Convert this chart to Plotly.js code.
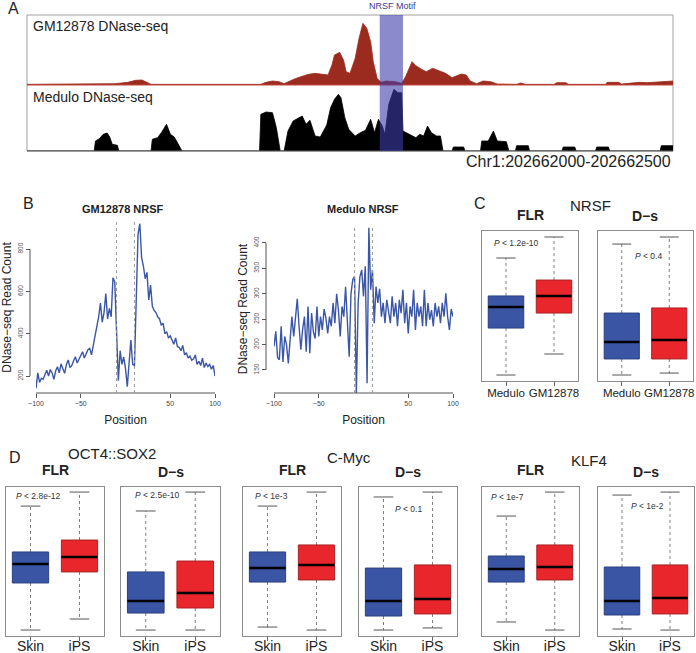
<!DOCTYPE html>
<html><head><meta charset="utf-8">
<script src="https://cdn.plot.ly/plotly-3.0.1.min.js"></script>
<style>html,body{margin:0;padding:0;background:#fff}#chart{width:696px;height:653px}</style>
</head><body><div id="chart"></div>
<script>
// ================= DATA =================
// Panel A: genome browser tracks (bp offset within Chr1:202662000-202662500)
const trackRedPos = [0,30,34,42,46,51,58,68,78,84,89,92,96,181,185,190,195,199,202,207,212,218,223,228,233,236,238,242,245,247,250,254,257,260,263,266,268,271,274,278,285,290,293,298,301,305,309,314,319,324,329,336,340,343,348,353,359,364,379,382,386,408,410,417,419,448,449,458,460,467,474,480,487,494,500];
const trackRedVal = [2,2,4,4,2,4,2,4,8,14,15,10,2,2,8,12,10,4,10,18,25,32,35,32,30,60,90,98,75,40,35,80,140,185,170,130,70,20,8,12,10,5,25,70,58,48,40,50,42,35,22,33,30,12,4,12,10,3,2,6,2,2,7,7,2,2,8,8,3,6,8,7,9,10,12];
const trackBlackPos = [0,52,53,56,59,62,64,66,70,71,96,97,101,104,108,111,114,118,120,180,181,185,190,193,196,199,202,206,210,213,216,219,223,227,232,235,238,241,243,246,249,254,258,262,266,269,272,275,277,280,284,287,290,291,296,301,304,307,310,313,317,320,322,329,330,338,339,351,352,357,361,364,371,373,378,379,388,389,414,415,424,425,440,441,450,451,490,491,500];
const trackBlackVal = [0,0,30,37,50,54,42,20,17,0,0,35,40,55,80,50,42,12,0,0,110,117,115,70,0,0,60,90,100,105,80,92,45,42,78,130,155,170,160,100,65,45,55,62,95,55,95,75,50,140,185,175,175,60,50,40,50,45,75,55,45,45,0,0,12,12,0,0,30,30,60,30,28,0,0,16,16,0,0,12,12,0,0,12,12,0,0,16,16];
const motifRange = [273, 291];
const trackNames = ['GM12878 DNase-seq', 'Medulo DNase-seq'];
const regionLabel = 'Chr1:202662000-202662500';

// Panel B: aggregate DNase-seq profiles around NRSF motifs
const profilePos = [-100,-98,-96,-94,-92,-90,-88,-86,-84,-82,-80,-78,-76,-74,-72,-70,-68,-66,-64,-62,-60,-58,-56,-54,-52,-50,-48,-46,-44,-42,-40,-38,-36,-34,-32,-30,-28,-26,-24,-22,-20,-18,-16,-14,-12,-10,-8,-6,-4,-2,0,2,4,6,8,10,12,14,16,18,20,22,24,26,28,30,32,34,36,38,40,42,44,46,48,50,52,54,56,58,60,62,64,66,68,70,72,74,76,78,80,82,84,86,88,90,92,94,96,98,100];
const gmProfile = [142,215,170,190,185,205,228,200,231,215,185,225,244,215,258,235,213,255,276,240,250,272,291,262,280,302,315,285,305,325,331,300,345,390,420,480,545,455,500,590,470,520,480,665,645,420,178,320,255,290,235,150,280,370,255,250,560,870,920,760,720,660,690,560,630,530,510,500,480,470,440,450,400,410,380,390,370,350,380,340,335,320,345,300,310,285,295,275,280,300,255,270,250,285,240,262,245,255,232,250,200];
const meduloProfile = [196,226,175,170,236,166,216,200,163,209,255,216,255,290,236,190,230,255,186,275,183,262,225,212,275,216,255,229,270,252,222,255,236,282,242,300,268,216,275,255,314,255,176,300,328,334,104,282,334,347,295,354,124,430,308,347,242,314,282,310,255,282,242,288,262,242,295,255,282,236,288,262,308,242,282,222,275,255,308,229,282,255,275,236,308,236,282,249,268,236,282,255,275,242,282,255,301,255,229,270,255];
const motifEdges = [-10, 10];
const posTicks = [-100, -50, 50, 100];
const posTickText = ['\u2212100', '\u221250', '50', '100'];
const gmTicks = [200, 400, 600, 800];
const meduloTicks = [150, 200, 250, 300, 350, 400];

// Panels C, D: box statistics [lower whisker, Q1, median, Q3, upper whisker] (frame-scaled units)
const groupsC = ['Medulo', 'GM12878'];
const groupsD = ['Skin', 'iPS'];
const nrsfFlrMedulo = [4, 35.3, 49.3, 56.7, 82];
const nrsfFlrGm     = [18, 45.3, 56.7, 67.3, 96];
const nrsfDsMedulo  = [4, 14.7, 26, 45.3, 91.3];
const nrsfDsGm      = [5.3, 14.7, 27.3, 48.7, 96];
const octFlrSkin = [4, 35.6, 48.3, 56.4, 87.2];
const octFlrIps  = [11.4, 43, 53, 64.4, 96.6];
const octDsSkin  = [4, 15.4, 23.5, 43, 83.9];
const octDsIps   = [4, 18.8, 28.9, 50.3, 96.6];
const mycFlrSkin = [6, 36.2, 45.6, 56.4, 87.2];
const mycFlrIps  = [4, 37.6, 47.7, 61.1, 96.6];
const mycDsSkin  = [4, 13.4, 23.5, 45.6, 93.3];
const mycDsIps   = [5.4, 14.8, 24.8, 47.7, 96.6];
const klfFlrSkin = [9.4, 36.2, 45, 53.7, 80.5];
const klfFlrIps  = [4, 37.6, 46.3, 61.1, 96.6];
const klfDsSkin  = [4.7, 14.1, 23.5, 46.3, 94.6];
const klfDsIps   = [4, 14.8, 25.5, 47.7, 96.6];
const pValues = ['1.2e-10', '0.4', '2.8e-12', '2.5e-10', '1e-3', '0.1', '1e-7', '1e-2'];
const factorNames = ['NRSF', 'OCT4::SOX2', 'C-Myc', 'KLF4'];
const methodNames = ['FLR', 'D\u2212s'];

// ================= LAYOUT HELPERS =================
const W = 696, H = 653;
const fx = p => p / W;
const fy = p => 1 - p / H;
const xd = (a, b) => [a / W, b / W];
const yd = (t, b) => [1 - b / H, 1 - t / H];
const FONT = 'Liberation Sans, Arial, Helvetica, sans-serif';
const BLUE = '#3b55a5', BLUE_EDGE = '#2c3f80', RED = '#e8262b', RED_EDGE = '#a92226';
const LINEBLUE = '#3a56a8';

const layout = {
  width: W, height: H, margin: {l: 0, r: 0, t: 0, b: 0},
  paper_bgcolor: '#ffffff', plot_bgcolor: 'rgba(0,0,0,0)',
  showlegend: false, font: {family: FONT, color: '#222'},
  shapes: [], annotations: []
};
const traces = [];
function text(t, x, y, size, opts) {
  layout.annotations.push(Object.assign({
    text: t, x: fx(x), y: fy(y), xref: 'paper', yref: 'paper',
    showarrow: false, xanchor: 'center', yanchor: 'middle',
    font: {family: FONT, size: size, color: '#222'}
  }, opts || {}));
}

// ================= PANEL A =================
const hid = {visible: false, fixedrange: true};
layout.xaxis  = Object.assign({}, hid, {domain: xd(27, 673), range: [0, 500], anchor: 'y'});
layout.yaxis  = Object.assign({}, hid, {domain: yd(15, 85), range: [0, 210], anchor: 'x'});
layout.xaxis2 = Object.assign({}, hid, {domain: xd(27, 673), range: [0, 500], anchor: 'y2'});
layout.yaxis2 = Object.assign({}, hid, {domain: yd(85, 151), range: [0, 198], anchor: 'x2'});
traces.push({type: 'scatter', mode: 'lines', x: trackRedPos, y: trackRedVal, xaxis: 'x', yaxis: 'y',
  fill: 'tozeroy', fillcolor: '#9c2b1f', line: {color: '#9c2b1f', width: 0.8}, hoverinfo: 'skip'});
traces.push({type: 'scatter', mode: 'lines', x: trackBlackPos, y: trackBlackVal, xaxis: 'x2', yaxis: 'y2',
  fill: 'tozeroy', fillcolor: '#000000', line: {color: '#000000', width: 0.8}, hoverinfo: 'skip'});
layout.shapes.push({type: 'rect', xref: 'paper', yref: 'paper', x0: fx(27), x1: fx(673), y0: fy(151), y1: fy(15),
  line: {color: '#a0a0a0', width: 1}, fillcolor: 'rgba(0,0,0,0)', layer: 'below'});
layout.shapes.push({type: 'line', xref: 'paper', yref: 'paper', x0: fx(27), x1: fx(673), y0: fy(85), y1: fy(85),
  line: {color: '#c4463a', width: 1}});
layout.shapes.push({type: 'line', xref: 'paper', yref: 'paper', x0: fx(27), x1: fx(673), y0: fy(151), y1: fy(151),
  line: {color: '#666', width: 1}});
layout.shapes.push({type: 'rect', xref: 'x', yref: 'paper', x0: motifRange[0], x1: motifRange[1], y0: fy(151), y1: fy(15),
  fillcolor: 'rgba(60,60,170,0.6)', line: {width: 0}, layer: 'above'});
text('A', 13, 9, 16);
text('NRSF Motif', 392, 6, 9, {font: {family: FONT, size: 9, color: '#3c3c90'}});
text(trackNames[0], 31, 26, 14, {xanchor: 'left'});
text(trackNames[1], 31, 97, 14, {xanchor: 'left'});
text(regionLabel, 673, 161, 16, {xanchor: 'right'});

// ================= PANEL B =================
function profilePanel(n, xpx, ypx, axisX, axisY, yRange, yTicks, values, title, titleX) {
  layout['xaxis' + n] = {domain: xd(xpx[0], xpx[1]), range: [-100, 100], anchor: 'free', position: fy(axisY),
    showline: false, showgrid: false, zeroline: false, ticks: 'outside', ticklen: 4, tickwidth: 1, tickcolor: '#555',
    tickvals: posTicks, ticktext: posTickText, tickangle: 0, tickfont: {size: 7, color: '#444'},
    title: {text: 'Position', font: {size: 12, color: '#222'}, standoff: 9}, fixedrange: true};
  layout['yaxis' + n] = {domain: yd(ypx[0], ypx[1]), range: yRange, anchor: 'free', position: fx(axisX),
    showline: false, showgrid: false, zeroline: false, ticks: 'outside', ticklen: 4, tickwidth: 1, tickcolor: '#555',
    tickvals: yTicks, tickangle: -90, tickfont: {size: 6.5, color: '#555'},
    title: {text: 'DNase\u2212seq Read Count', font: {size: 12, color: '#222'}, standoff: 2}, fixedrange: true};
  traces.push({type: 'scatter', mode: 'lines', x: profilePos, y: values, xaxis: 'x' + n, yaxis: 'y' + n,
    line: {color: LINEBLUE, width: 1.4}, hoverinfo: 'skip'});
  layout.shapes.push({type: 'line', xref: 'x' + n, yref: 'paper', x0: posTicks[0], x1: posTicks[posTicks.length - 1],
    y0: fy(axisY), y1: fy(axisY), line: {color: '#555', width: 1}});
  layout.shapes.push({type: 'line', xref: 'paper', yref: 'y' + n, x0: fx(axisX), x1: fx(axisX),
    y0: yTicks[0], y1: yTicks[yTicks.length - 1], line: {color: '#555', width: 1}});
  motifEdges.forEach(e => layout.shapes.push({type: 'line', xref: 'x' + n, yref: 'paper', x0: e, x1: e,
    y0: fy(axisY), y1: fy(ypx[0]), line: {color: '#999', width: 1, dash: 'dot'}}));
  text('<b>' + title + '</b>', titleX, 209, 11);
}
profilePanel(3, [36, 215], [222, 393], 30, 393, [120, 928], gmTicks, gmProfile, 'GM12878 NRSF', 123);
profilePanel(4, [274, 453], [225, 393], 266, 393, [104.7, 435.4], meduloTicks, meduloProfile, 'Medulo NRSF', 363);
text('B', 28, 203, 16);

// ================= PANELS C & D =================
let axisN = 5;
function boxPanel(xpx, ypx, groups, sA, sB, tickSize, labelShift, pText, pX, pY) {
  const n = axisN++;
  const xa = 'x' + n, ya = 'y' + n;
  layout['xaxis' + n] = {domain: xd(xpx[0], xpx[1]), range: [0.5, 2.5], anchor: ya,
    showline: true, mirror: true, linecolor: '#8c8c8c', linewidth: 1, showgrid: false, zeroline: false,
    ticks: 'outside', ticklen: 4, tickwidth: 1, tickcolor: '#666', tickvals: [1, 2], ticktext: groups,
    tickangle: 0, ticklabelstandoff: labelShift, tickfont: {size: tickSize, color: '#222'}, fixedrange: true};
  layout['yaxis' + n] = {domain: yd(ypx[0], ypx[1]), range: [0, 100], anchor: xa,
    showline: true, mirror: true, linecolor: '#8c8c8c', linewidth: 1, showgrid: false, zeroline: false,
    showticklabels: false, ticks: '', fixedrange: true};
  const w = 0.37, cap = 0.2;
  const st = [sA, sB];
  const wx = [], wy = [], cx = [], cy = [], mx = [], my = [];
  st.forEach((s, i) => {
    const c = i + 1;
    wx.push(c, c, null, c, c, null); wy.push(s[3], s[4], null, s[1], s[0], null);
    cx.push(c - cap, c + cap, null, c - cap, c + cap, null); cy.push(s[4], s[4], null, s[0], s[0], null);
    mx.push(c - w, c + w, null); my.push(s[2], s[2], null);
  });
  traces.push({type: 'scatter', mode: 'lines', x: wx, y: wy, xaxis: xa, yaxis: ya,
    line: {color: '#7d7d7d', width: 1, dash: 'dot'}, hoverinfo: 'skip'});
  traces.push({type: 'scatter', mode: 'lines', x: cx, y: cy, xaxis: xa, yaxis: ya,
    line: {color: '#555', width: 1}, hoverinfo: 'skip'});
  [[sA, BLUE, BLUE_EDGE], [sB, RED, RED_EDGE]].forEach((g, i) => {
    const s = g[0], c = i + 1;
    traces.push({type: 'scatter', mode: 'lines', xaxis: xa, yaxis: ya,
      x: [c - w, c + w, c + w, c - w, c - w], y: [s[1], s[1], s[3], s[3], s[1]],
      fill: 'toself', fillcolor: g[1], line: {color: g[2], width: 1}, hoverinfo: 'skip'});
  });
  traces.push({type: 'scatter', mode: 'lines', x: mx, y: my, xaxis: xa, yaxis: ya,
    line: {color: '#000', width: 2.6}, hoverinfo: 'skip'});
  text('<i>P</i> < ' + pText, pX, pY, 8.5, {xanchor: 'left', font: {family: FONT, size: 8.5, color: '#333'}});
}
// Panel C (NRSF)
boxPanel([482, 578], [231, 381], groupsC, nrsfFlrMedulo, nrsfFlrGm, 11.5, -3, pValues[0], 492, 243);
boxPanel([598, 693], [231, 381], groupsC, nrsfDsMedulo, nrsfDsGm, 11.5, -3, pValues[1], 633, 256);
text('C', 480, 203, 16);
text(factorNames[0], 590, 205, 15);
text('<b>' + methodNames[0] + '</b>', 530, 215, 14);
text('<b>' + methodNames[1] + '</b>', 645, 216, 14);
// Panel D
const dY = [487, 636];
boxPanel([6, 104], dY, groupsD, octFlrSkin, octFlrIps, 14, -7, pValues[2], 14, 496);
boxPanel([121, 220], dY, groupsD, octDsSkin, octDsIps, 14, -7, pValues[3], 133, 495);
boxPanel([243, 341], dY, groupsD, mycFlrSkin, mycFlrIps, 14, -7, pValues[4], 253, 496);
boxPanel([359, 457], dY, groupsD, mycDsSkin, mycDsIps, 14, -7, pValues[5], 393, 509);
boxPanel([482, 579], dY, groupsD, klfFlrSkin, klfFlrIps, 14, -7, pValues[6], 489, 497);
boxPanel([598, 694], dY, groupsD, klfDsSkin, klfDsIps, 14, -7, pValues[7], 629, 506);
text('D', 15, 458, 16);
text(factorNames[1], 112, 453, 15);
text(factorNames[2], 349, 458, 15);
text(factorNames[3], 589, 460, 15);
[[55, 171], [292, 408], [530, 646]].forEach(p => {
  text('<b>' + methodNames[0] + '</b>', p[0], 470, 14);
  text('<b>' + methodNames[1] + '</b>', p[1], 472, 14);
});

Plotly.newPlot('chart', traces, layout, {staticPlot: true, displayModeBar: false});
</script>
</body></html>
